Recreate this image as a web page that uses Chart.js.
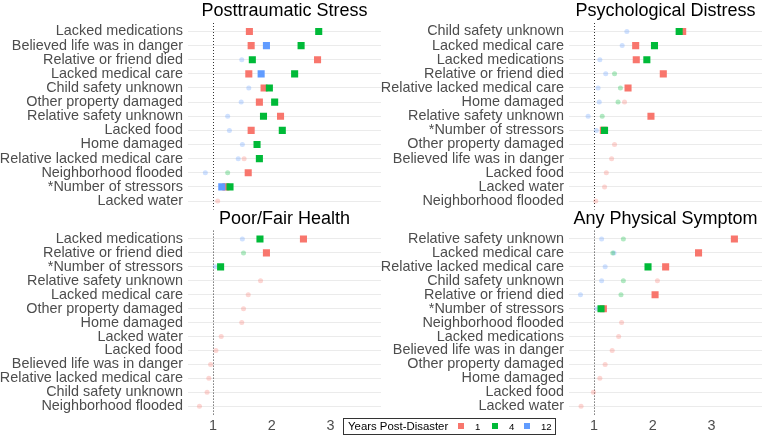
<!DOCTYPE html>
<html>
<head>
<meta charset="utf-8">
<script src="https://cdn.jsdelivr.net/npm/chart.js@4.4.0/dist/chart.umd.min.js"></script>
<style>
  body { margin: 0; background: #fff; width: 762px; height: 435px; position: relative; overflow: hidden;
         font-family: "Liberation Sans", Arial, sans-serif; }
  canvas { position: absolute; }
  #legend { position: absolute; left: 343px; top: 418px; width: 211px; height: 15px; border: 1px solid #333; color: #000; }
  #legend span { position: absolute; line-height: 13px; }
  #legend .sw { width: 6px; height: 6px; top: 4px; }
  #legend .lb { font-size: 9.6px; top: 1px; }
</style>
</head>
<body>
<canvas id="pts" width="381" height="210" style="left:0;top:0"></canvas>
<canvas id="psych" width="381" height="210" style="left:381px;top:0"></canvas>
<canvas id="health" width="381" height="227" style="left:0;top:208px"></canvas>
<canvas id="phys" width="381" height="227" style="left:381px;top:208px"></canvas>
<div id="legend">
  <span style="left:4px;top:1px;font-size:11.4px">Years Post-Disaster</span>
  <span class="sw" style="left:114px;background:#F8766D"></span><span class="lb" style="left:131px">1</span>
  <span class="sw" style="left:148px;background:#00BA38"></span><span class="lb" style="left:165px">4</span>
  <span class="sw" style="left:180px;background:#619CFF"></span><span class="lb" style="left:197px">12</span>
</div>
<script>
// odds ratios, rows top to bottom; sig = filled square
const xTicks = [1, 2, 3];

const ptsCats = ['Lacked medications', 'Believed life was in danger', 'Relative or friend died', 'Lacked medical care',
  'Child safety unknown', 'Other property damaged', 'Relative safety unknown', 'Lacked food', 'Home damaged',
  'Relative lacked medical care', 'Neighborhood flooded', '*Number of stressors', 'Lacked water'];
const ptsYear1 = [1.62, 1.65, 2.78, 1.61, 1.87, 1.79, 2.15, 1.65, null, 1.53, 1.60, 1.22, 1.08];
const ptsYear4 = [2.80, 2.50, 1.67, 2.39, 1.96, 2.05, 1.86, 2.18, 1.75, 1.79, 1.25, 1.29, null];
const ptsYear12 = [null, 1.91, 1.49, 1.82, 1.61, 1.48, 1.25, 1.28, 1.50, 1.43, 0.87, 1.15, null];
const ptsSig1 = [1, 1, 1, 1, 1, 1, 1, 1, 0, 0, 1, 1, 0];
const ptsSig4 = [1, 1, 1, 1, 1, 1, 1, 1, 1, 1, 0, 1, 0];
const ptsSig12 = [0, 1, 0, 1, 0, 0, 0, 0, 0, 0, 0, 1, 0];

const psyCats = ['Child safety unknown', 'Lacked medical care', 'Lacked medications', 'Relative or friend died',
  'Relative lacked medical care', 'Home damaged', 'Relative safety unknown', '*Number of stressors',
  'Other property damaged', 'Believed life was in danger', 'Lacked food', 'Lacked water', 'Neighborhood flooded'];
const psyYear1 = [2.51, 1.71, 1.72, 2.18, 1.58, 1.52, 1.97, 1.16, 1.35, 1.30, 1.21, 1.18, 1.03];
const psyYear4 = [2.45, 2.03, 1.90, 1.35, 1.45, 1.41, 1.14, 1.18, null, null, null, null, null];
const psyYear12 = [1.56, 1.48, 1.10, 1.20, 1.07, 1.09, 0.90, 1.04, null, null, null, null, null];
const psySig1 = [1, 1, 1, 1, 1, 0, 1, 1, 0, 0, 0, 0, 0];
const psySig4 = [1, 1, 1, 0, 0, 0, 0, 1, 0, 0, 0, 0, 0];
const psySig12 = [0, 0, 0, 0, 0, 0, 0, 0, 0, 0, 0, 0, 0];

const hlthCats = ['Lacked medications', 'Relative or friend died', '*Number of stressors', 'Relative safety unknown',
  'Lacked medical care', 'Other property damaged', 'Home damaged', 'Lacked water', 'Lacked food',
  'Believed life was in danger', 'Relative lacked medical care', 'Child safety unknown', 'Neighborhood flooded'];
const hlthYear1 = [2.54, 1.91, null, 1.81, 1.60, 1.52, 1.49, 1.14, 1.05, 0.96, 0.93, 0.90, 0.77];
const hlthYear4 = [1.80, 1.52, 1.13, null, null, null, null, null, null, null, null, null, null];
const hlthYear12 = [1.50, null, 1.04, null, null, null, null, null, null, null, null, null, null];
const hlthSig1 = [1, 1, 0, 0, 0, 0, 0, 0, 0, 0, 0, 0, 0];
const hlthSig4 = [1, 0, 1, 0, 0, 0, 0, 0, 0, 0, 0, 0, 0];
const hlthSig12 = [0, 0, 0, 0, 0, 0, 0, 0, 0, 0, 0, 0, 0];

const physCats = ['Relative safety unknown', 'Lacked medical care', 'Relative lacked medical care', 'Child safety unknown',
  'Relative or friend died', '*Number of stressors', 'Neighborhood flooded', 'Lacked medications',
  'Believed life was in danger', 'Other property damaged', 'Home damaged', 'Lacked food', 'Lacked water'];
const physYear1 = [3.39, 2.78, 2.22, 2.08, 2.04, 1.16, 1.47, 1.42, 1.31, 1.19, 1.10, 0.99, 0.78];
const physYear4 = [1.50, 1.32, 1.92, 1.50, 1.46, 1.12, null, null, null, null, null, null, null];
const physYear12 = [1.13, 1.34, 1.19, 1.13, 0.77, 1.05, null, null, null, null, null, null, null];
const physSig1 = [1, 1, 1, 0, 1, 1, 0, 0, 0, 0, 0, 0, 0];
const physSig4 = [0, 0, 1, 0, 0, 1, 0, 0, 0, 0, 0, 0, 0];
const physSig12 = [0, 0, 0, 0, 0, 0, 0, 0, 0, 0, 0, 0, 0];

const FONT = '"Liberation Sans", Arial, sans-serif';

// dotted reference line at OR = 1
const refLine = {
  id: 'refLine',
  beforeDatasetsDraw(chart) {
    const { ctx, chartArea, scales } = chart;
    const x = Math.round(scales.x.getPixelForValue(1)) + 0.5;
    ctx.save();
    ctx.strokeStyle = '#333';
    ctx.lineWidth = 1;
    ctx.setLineDash([1, 2]);
    ctx.beginPath();
    ctx.moveTo(x, chartArea.top);
    ctx.lineTo(x, chartArea.bottom);
    ctx.stroke();
    ctx.restore();
  }
};

function pts(vals, sig, want) {
  const out = [];
  vals.forEach((v, i) => {
    if (v !== null && !!sig[i] === want) out.push({ x: v, y: i });
  });
  return out;
}

function makePanel(id, title, cats, y1, y4, y12, s1, s4, s12, bottom) {
  const years = [
    { vals: y1, sig: s1, col: '248,118,109', order: 3 },
    { vals: y4, sig: s4, col: '0,186,56', order: 1 },
    { vals: y12, sig: s12, col: '97,156,255', order: 2 }
  ];
  const datasets = [];
  years.forEach(y => {
    datasets.push({
      data: pts(y.vals, y.sig, false),
      pointStyle: 'circle', pointRadius: 2.5, pointHoverRadius: 2.5, borderWidth: 0,
      backgroundColor: 'rgba(' + y.col + ',0.3)', order: y.order + 10
    });
    datasets.push({
      data: pts(y.vals, y.sig, true),
      pointStyle: 'rect', pointRadius: 5, pointHoverRadius: 5, borderWidth: 0,
      backgroundColor: 'rgb(' + y.col + ')', order: y.order
    });
  });

  new Chart(document.getElementById(id), {
    type: 'scatter',
    data: { datasets: datasets },
    options: {
      responsive: false,
      animation: false,
      layout: { autoPadding: false, padding: { left: 0, right: 0, top: 0, bottom: bottom ? 0 : 0.5 } },
      plugins: {
        legend: { display: false },
        tooltip: { enabled: false },
        title: {
          display: true, text: title, fullSize: false, color: '#000',
          font: { family: FONT, size: 18, weight: 'normal' },
          padding: { top: 0, bottom: bottom ? 1 : 1.4 }
        }
      },
      scales: {
        x: {
          type: 'linear', min: 0.575, max: 3.86, display: bottom,
          grid: { display: false, drawTicks: false }, border: { display: false },
          ticks: { color: '#4d4d4d', font: { family: FONT, size: 14.4 }, padding: 2.5, maxRotation: 0, autoSkip: false },
          afterBuildTicks: s => { s.ticks = xTicks.map(v => ({ value: v })); },
          afterFit: s => { s.height = bottom ? 20.4 : 0; s.paddingLeft = 0; s.paddingRight = 0; }
        },
        y: {
          type: 'linear', min: -0.6, max: cats.length - 0.4, reverse: true,
          grid: { color: '#ebebeb', lineWidth: 1, drawTicks: false }, border: { display: false },
          ticks: { color: '#4d4d4d', font: { family: FONT, size: 14.4 }, padding: 5, autoSkip: false,
                   callback: v => cats[v] },
          afterBuildTicks: s => { s.ticks = cats.map((c, i) => ({ value: i })); },
          afterFit: s => { s.width = 188; s.paddingTop = 0; s.paddingBottom = 0; }
        }
      }
    },
    plugins: [refLine]
  });
}

makePanel('pts', 'Posttraumatic Stress', ptsCats, ptsYear1, ptsYear4, ptsYear12, ptsSig1, ptsSig4, ptsSig12, false);
makePanel('psych', 'Psychological Distress', psyCats, psyYear1, psyYear4, psyYear12, psySig1, psySig4, psySig12, false);
makePanel('health', 'Poor/Fair Health', hlthCats, hlthYear1, hlthYear4, hlthYear12, hlthSig1, hlthSig4, hlthSig12, true);
makePanel('phys', 'Any Physical Symptom', physCats, physYear1, physYear4, physYear12, physSig1, physSig4, physSig12, true);
</script>
</body>
</html>
